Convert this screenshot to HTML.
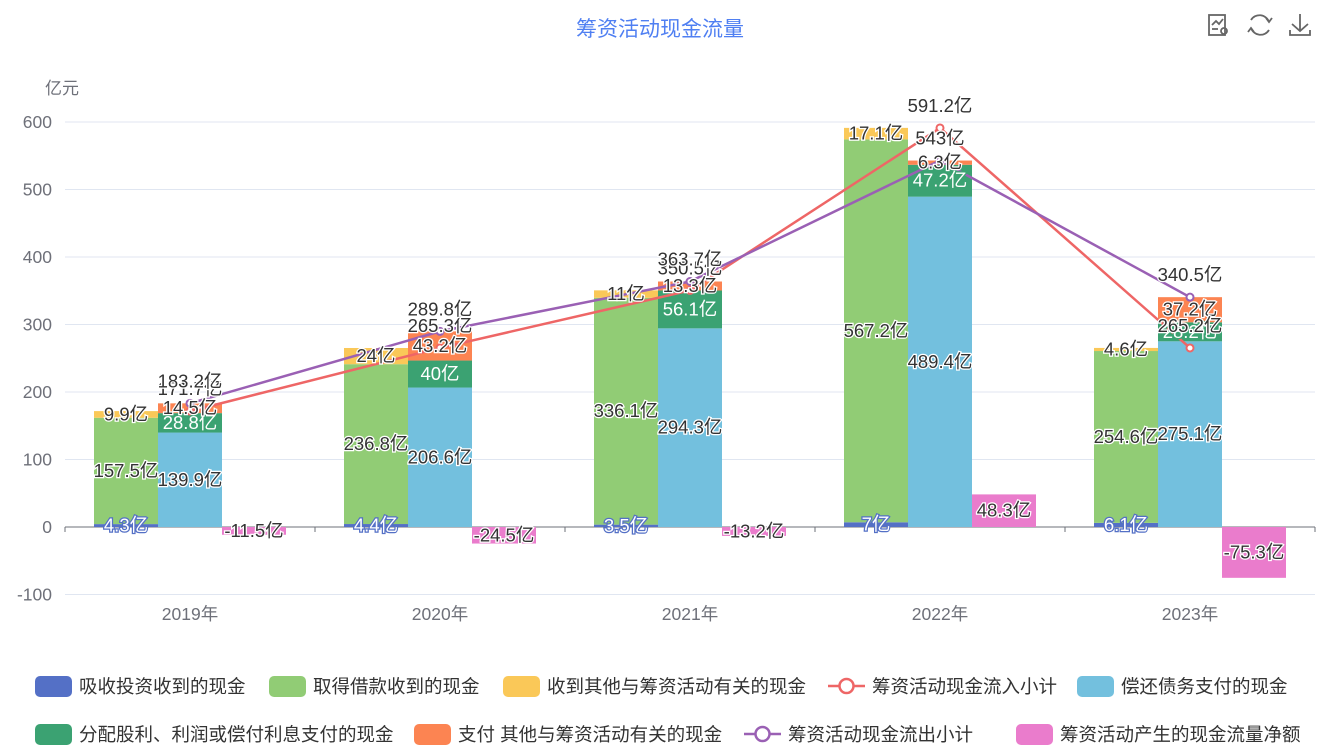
<!DOCTYPE html>
<html><head><meta charset="utf-8"><style>
body{margin:0;background:#fff;width:1321px;height:751px;overflow:hidden;font-family:"Liberation Sans","Noto Sans CJK SC",sans-serif}
svg text{font-family:"Liberation Sans","Noto Sans CJK SC",sans-serif}
</style></head><body>
<svg id="chart" width="1321" height="751">
<text x="660" y="36" text-anchor="middle" font-size="21" fill="#4f7ff2">筹资活动现金流量</text>
<g stroke="#666" stroke-width="1.8" fill="none">
<g><rect x="1209" y="15" width="16" height="20"/><polyline points="1212,25 1216,21 1219,24 1223,19"/><line x1="1212" y1="29" x2="1218" y2="29"/><circle cx="1224" cy="31" r="3"/></g>
<g><path d="M1251,20 A10,10 0 0 1 1269,22"/><path d="M1269,30 A10,10 0 0 1 1251,28"/><polyline points="1266,18 1269,22 1272,18"/><polyline points="1248,32 1251,28 1254,32"/></g>
<g><line x1="1300" y1="14" x2="1300" y2="31"/><polyline points="1292,24 1300,31 1308,24"/><polyline points="1290,30 1290,35 1310,35 1310,30"/></g>
</g>
<text x="45" y="94" font-size="17" fill="#6e7079">亿元</text>
<g id="grid"></g><g id="bars"></g><g id="lines"></g><g id="labels"></g>
<g id="legend"></g>
</svg>
<script>
const years=['2019年','2020年','2021年','2022年','2023年'];
const yTicks=[-100,0,100,200,300,400,500,600];
const absorb=[4.3,4.4,3.5,7,6.1];
const borrow=[157.5,236.8,336.1,567.2,254.6];
const otherIn=[9.9,24,11,17.1,4.6];
const inflowTotal=[171.7,265.3,350.5,591.2,265.2];
const repay=[139.9,206.6,294.3,489.4,275.1];
const dividend=[28.8,40,56.1,47.2,28.2];
const otherOut=[14.5,43.2,13.3,6.3,37.2];
const outflowTotal=[183.2,289.8,363.7,543,340.5];
const net=[-11.5,-24.5,-13.2,48.3,-75.3];
const NS='http://www.w3.org/2000/svg';
const X0=65,CW=250,Y0=527,PX=0.675;
const y=v=>Y0-v*PX;
const cx=i=>X0+CW*i+CW/2;
function mk(tag,attrs,parent){const e=document.createElementNS(NS,tag);for(const k in attrs)e.setAttribute(k,attrs[k]);parent.appendChild(e);return e;}
const grid=document.getElementById('grid');
yTicks.forEach(t=>{
 const l=mk('line',{x1:X0,x2:1315,y1:y(t),y2:y(t),stroke:t===0?'#6e7079':'#e0e6f1','stroke-width':1},grid);
 
 
 const tx=mk('text',{x:52,y:y(t)+6,'text-anchor':'end','font-size':17.5,fill:'#6e7079'},grid);tx.textContent=t;
 
 
});
years.forEach((yr,i)=>{
 for(const xx of [X0+CW*i,X0+CW*(i+1)]){const tk=mk('line',{x1:xx,x2:xx,y1:Y0,y2:Y0+5,stroke:'#6e7079'},grid);
 
 }
 const t=mk('text',{x:cx(i),y:Y0+93,'text-anchor':'middle','font-size':17.5,fill:'#6e7079'},grid);t.textContent=yr;
 
 
});
const bars=document.getElementById('bars'),labels=document.getElementById('labels'),lines=document.getElementById('lines');
function label(x,yy,txt,fill,stroke){const t=mk('text',{x:x,y:yy+6,'text-anchor':'middle','font-size':18.5,fill:fill,stroke:stroke,'stroke-width':2.5,'paint-order':'stroke'},labels);t.textContent=txt+'亿';
 
 }
function stack(series,colors,names,col,lblStyles){
 series[0].forEach((_,i)=>{
  let base=0;const x=X0+CW*i+29+col*64;
  series.forEach((s,k)=>{
   const v=s[i];const top=base+v;
   const r=mk('rect',{x:x,width:64,y:Math.min(y(base),y(top)),height:Math.abs(v*PX),fill:colors[k]},bars);
   
   
   const st=lblStyles[k];
   label(x+32,(y(base)+y(top))/2,v,st[0],st[1]);
   base=top;
  });
 });
}
stack([absorb,borrow,otherIn],['#5470c6','#91cc75','#fac858'],['absorb-investment','borrowing','other-inflow'],0,[['#fff','#5470c6'],['#333','#fff'],['#333','#fff']]);
stack([repay,dividend,otherOut],['#73c0de','#3ba272','#fc8452'],['debt-repayment','dividend-interest','other-outflow'],1,[['#333','#fff'],['#fff','#3ba272'],['#333','#fff']]);
stack([net],['#ea7ccc'],['net-cash-flow'],2,[['#333','#fff']]);
function line(data,color,name){
 const pts=data.map((v,i)=>cx(i)+','+y(v)).join(' ');
 const p=mk('polyline',{points:pts,fill:'none',stroke:color,'stroke-width':2.5},lines);
 
 
 data.forEach((v,i)=>{const c=mk('circle',{cx:cx(i),cy:y(v),r:3.5,fill:'#fff',stroke:color,'stroke-width':2},lines);
  
  
  label(cx(i),y(v)-22,v,'#333','#fff');});
}
line(inflowTotal,'#ee6666','inflow-subtotal');
line(outflowTotal,'#9a60b4','outflow-subtotal');
const leg=document.getElementById('legend');
const items=[
 [35,686,'rect','#5470c6','吸收投资收到的现金'],[269,686,'rect','#91cc75','取得借款收到的现金'],[503,686,'rect','#fac858','收到其他与筹资活动有关的现金'],[828,686,'line','#ee6666','筹资活动现金流入小计'],[1077,686,'rect','#73c0de','偿还债务支付的现金'],
 [35,734,'rect','#3ba272','分配股利、利润或偿付利息支付的现金'],[414,734,'rect','#fc8452','支付 其他与筹资活动有关的现金'],[744,734,'line','#9a60b4','筹资活动现金流出小计'],[1016,734,'rect','#ea7ccc','筹资活动产生的现金流量净额']];
items.forEach(it=>{
 const g=mk('g',{},leg);
 
 
 const [x,yy,type,color,txt]=it;
 if(type==='rect'){mk('rect',{x:x,y:yy-10,width:37,height:21,rx:5,fill:color},g);}
 else{mk('line',{x1:x,x2:x+37,y1:yy,y2:yy,stroke:color,'stroke-width':2.5},g);mk('circle',{cx:x+18.5,cy:yy,r:7,fill:'#fff',stroke:color,'stroke-width':2.5},g);}
 const t=mk('text',{x:x+44,y:yy+7,'font-size':18.5,fill:'#333'},g);t.textContent=txt;
});
</script>
</body></html>
